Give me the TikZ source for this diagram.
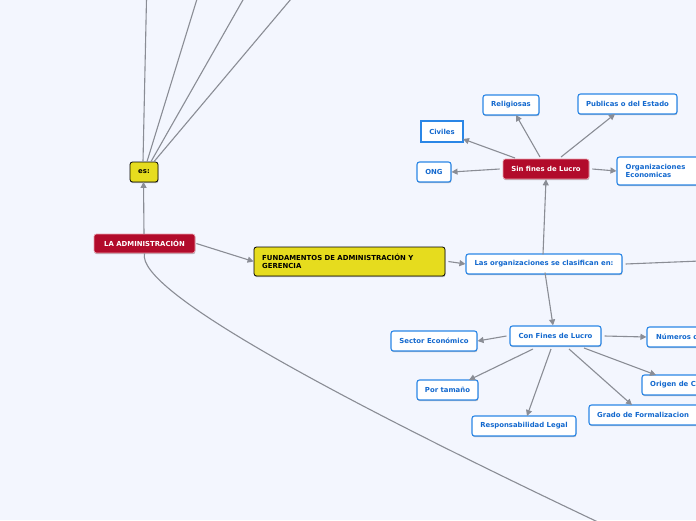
\documentclass[tikz,border=0pt]{standalone}
\usepackage{fontspec}
\setmainfont{DejaVu Sans}
\usetikzlibrary{arrows.meta,shadows}
\definecolor{bgc}{HTML}{F3F6FE}
\definecolor{bblue}{HTML}{2A86E6}
\definecolor{tblue}{HTML}{1268CE}
\definecolor{redf}{HTML}{B20B2B}
\definecolor{redd}{HTML}{E8A0AC}
\definecolor{yelf}{HTML}{E6DC1E}
\definecolor{linec}{HTML}{8A8D95}
\newcommand{\boxfont}{\bfseries\fontsize{6.9}{8}\selectfont}
\tikzset{
  base/.style={inner sep=0pt, font=\boxfont,
    drop shadow={shadow xshift=0.4pt, shadow yshift=-1.2pt, opacity=0.25, fill=black}},
  bluebox/.style={base, draw=bblue, line width=1.1pt, fill=white, text=tblue, rounded corners=2.5pt},
  redbox/.style={base, draw=redd, line width=0.7pt, fill=redf, text=white, rounded corners=2.5pt},
  yelbox/.style={base, draw=black, line width=0.8pt, fill=yelf, text=black, rounded corners=2.5pt},
  lbl/.style={anchor=west, align=left, inner sep=0pt, font=\boxfont},
  conn/.style={draw=linec, line width=1.1pt},
  arr/.style={conn, -{Triangle[length=6pt,width=6pt]}},
}
\newcommand{\bx}[6]{%
  \node[#1, minimum width={#5-#3}, minimum height={#6-#4}] (#2) at ({(#3+#5)/2},{(#4+#6)/2})}
\begin{document}
\begin{tikzpicture}[x=1pt,y=-1pt]
\fill[bgc] (0,0) rectangle (696,520);
\clip (0,0) rectangle (696,520);
\useasboundingbox (0,0) rectangle (696,520);

% nodes
\bx{redbox}{adm}{94}{234}{195}{253} {LA ADMINISTRACIÓN};
\bx{yelbox}{es}{130}{162}{158}{182} {es:};
\bx{yelbox}{fund}{254}{247}{445}{276} {};
\node[lbl] (fundt) at (262,261.5) {FUNDAMENTOS DE ADMINISTRACIÓN Y\\GERENCIA};
\bx{bluebox}{las}{466}{254}{622}{274} {Las organizaciones se clasifican en:};
\bx{redbox}{sin}{503}{159}{589}{179} {Sin fines de Lucro};
\bx{bluebox}{ong}{417}{162}{451}{182} {ONG};
\bx{bluebox,rounded corners=0pt}{civ}{421}{121}{463}{142} {Civiles};
\bx{bluebox}{rel}{483}{95}{539}{115} {Religiosas};
\bx{bluebox}{pub}{578}{94}{677}{114} {Publicas o del Estado};
\bx{bluebox}{orgec}{617}{157}{710}{185} {};
\node[lbl, text=tblue] (orgect) at (625.5,171) {Organizaciones\\Economicas};
\bx{bluebox}{con}{510}{326}{601}{346} {Con Fines de Lucro};
\bx{bluebox}{sec}{391}{331}{477}{351} {Sector Económico};
\bx{bluebox}{num}{647}{327}{720}{347} {};
\node[lbl, text=tblue] (numt) at (656,337) {Números d};
\bx{bluebox}{por}{417}{380}{478}{400} {Por tamaño};
\bx{bluebox}{ori}{642}{375}{720}{395} {};
\node[lbl, text=tblue] (orit) at (650,385) {Origen de C};
\bx{bluebox}{res}{472}{416}{576}{436} {Responsabilidad Legal};
\bx{bluebox}{gra}{589}{405}{700}{425} {};
\node[lbl, text=tblue] (grat) at (597,415) {Grado de Formalizacion};

% free ends
\coordinate (t1) at (146.5,-1);
\coordinate (t2) at (197,-1);
\coordinate (t3) at (243.5,-1);
\coordinate (t4) at (291,-1);
\coordinate (r1) at (700,261);
\coordinate (b1) at (600,523);

% connectors
\draw[conn] ([xshift=-1pt]es.north) -- (t1);
\draw[conn] ([xshift=3pt]es.north) -- (t2);
\draw[conn] ([xshift=7pt]es.north) -- (t3);
\draw[conn] ([xshift=10pt]es.north) -- (t4);
\draw[arr] ([xshift=-0.5pt,yshift=-0.5pt]adm.north) -- ([xshift=-0.5pt,yshift=0.5pt]es.south);
\draw[arr] ([xshift=1pt]adm.east) -- (fund.west);
\draw[arr] ([xshift=3pt]fund.east) -- (las.west);
\draw[conn] ([xshift=3pt]las.east) -- (r1);
\draw[arr] ([xshift=-1pt,yshift=-1pt]las.north) -- (sin.south);
\draw[arr] ([xshift=1pt,yshift=2pt]las.south) -- ([xshift=-2.5pt]con.north);
\draw[arr] ([xshift=-3pt]sin.west) -- (ong.east);
\draw[arr] (515,158) -- (463,139);
\draw[arr] (540,157) -- (516,115);
\draw[arr] (561,157) -- (615,114);
\draw[arr] ([xshift=3pt]sin.east) -- (orgec.west);
\draw[arr] ([xshift=-3pt]con.west) -- (sec.east);
\draw[arr] ([xshift=3pt]con.east) -- (num.west);
\draw[arr] (533,349) -- (469,380);
\draw[arr] (551,349) -- (527,416);
\draw[arr] (569,349) -- (632,405);
\draw[arr] (584,348) -- (656,375);
\draw[conn] (adm.south) .. controls (136,290) and (330,395) .. (b1);
\end{tikzpicture}
\end{document}
